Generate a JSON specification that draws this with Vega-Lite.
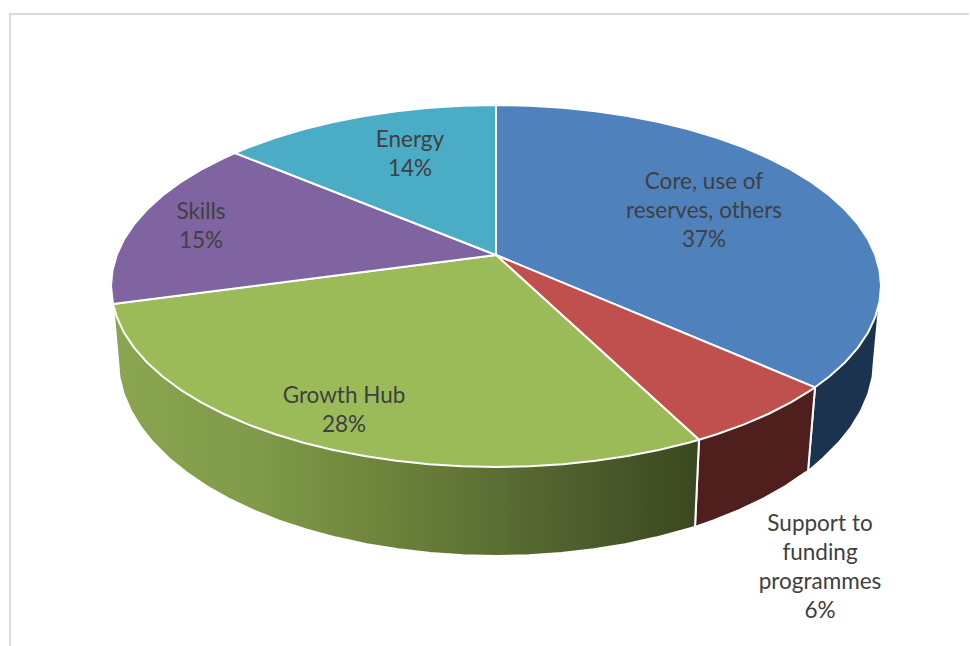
{
"$schema":"https://vega.github.io/schema/vega-lite/v6.json",
"width":970,"height":646,"padding":0,
"autosize":{"type":"fit","contains":"padding"},
"background":"white",
"config":{"view":{"stroke":null}},
"datasets":{
"frame":[{"s":1,"x":10,"y":670},{"s":2,"x":10,"y":14},{"s":3,"x":969,"y":14}],
"walls":[
{"slice":"Core, use of reserves, others","s":1,"x":881,"y":286},{"slice":"Core, use of reserves, others","s":2,"x":874,"y":360},{"slice":"Core, use of reserves, others","s":3,"x":872.6,"y":377.1},{"slice":"Core, use of reserves, others","s":4,"x":868.3,"y":394},{"slice":"Core, use of reserves, others","s":5,"x":861.1,"y":410.7},{"slice":"Core, use of reserves, others","s":6,"x":851.2,"y":427},{"slice":"Core, use of reserves, others","s":7,"x":838.6,"y":442.8},{"slice":"Core, use of reserves, others","s":8,"x":823.4,"y":458},{"slice":"Core, use of reserves, others","s":9,"x":808,"y":471.5},{"slice":"Core, use of reserves, others","s":10,"x":815,"y":387.3},{"slice":"Core, use of reserves, others","s":11,"x":881,"y":286},
{"slice":"Support to funding programmes","s":1,"x":815,"y":387.3},{"slice":"Support to funding programmes","s":2,"x":808,"y":471.5},{"slice":"Support to funding programmes","s":3,"x":805.7,"y":472.4},{"slice":"Support to funding programmes","s":4,"x":785.5,"y":486},{"slice":"Support to funding programmes","s":5,"x":763.3,"y":498.6},{"slice":"Support to funding programmes","s":6,"x":739,"y":510.1},{"slice":"Support to funding programmes","s":7,"x":712.8,"y":520.6},{"slice":"Support to funding programmes","s":8,"x":695,"y":527},{"slice":"Support to funding programmes","s":9,"x":699,"y":439.8},{"slice":"Support to funding programmes","s":10,"x":815,"y":387.3}
],
"greenWall":[
{"s":1,"x":699,"y":439.8},{"s":2,"x":695,"y":527},{"s":3,"x":685,"y":529.7},{"s":4,"x":655.7,"y":537.6},{"s":5,"x":625.3,"y":544.2},{"s":6,"x":593.8,"y":549.3},{"s":7,"x":561.6,"y":553},{"s":8,"x":529,"y":555.3},{"s":9,"x":496,"y":556},{"s":10,"x":463,"y":555.3},{"s":11,"x":430.4,"y":553},{"s":12,"x":398.2,"y":549.3},{"s":13,"x":366.7,"y":544.2},{"s":14,"x":336.3,"y":537.6},{"s":15,"x":307,"y":529.7},{"s":16,"x":279.2,"y":520.6},{"s":17,"x":253,"y":510.1},{"s":18,"x":228.7,"y":498.6},{"s":19,"x":206.5,"y":486},{"s":20,"x":186.3,"y":472.4},{"s":21,"x":168.6,"y":458},{"s":22,"x":153.4,"y":442.8},{"s":23,"x":140.8,"y":427},{"s":24,"x":130.9,"y":410.7},{"s":25,"x":123.7,"y":394},{"s":26,"x":119.4,"y":377.1},{"s":27,"x":118,"y":360},{"s":28,"x":113,"y":304},{"s":29,"x":699,"y":439.8}
],
"faces":[
{"slice":"Core","s":1,"x":496,"y":255},{"slice":"Core","s":2,"x":496,"y":105},{"slice":"Core","s":3,"x":529.6,"y":105.7},{"slice":"Core","s":4,"x":562.8,"y":107.8},{"slice":"Core","s":5,"x":595.6,"y":111.2},{"slice":"Core","s":6,"x":627.7,"y":115.9},{"slice":"Core","s":7,"x":658.7,"y":122},{"slice":"Core","s":8,"x":688.5,"y":129.3},{"slice":"Core","s":9,"x":716.8,"y":137.7},{"slice":"Core","s":10,"x":743.5,"y":147.4},{"slice":"Core","s":11,"x":768.2,"y":158},{"slice":"Core","s":12,"x":790.9,"y":169.7},{"slice":"Core","s":13,"x":811.4,"y":182.2},{"slice":"Core","s":14,"x":829.4,"y":195.5},{"slice":"Core","s":15,"x":844.9,"y":209.5},{"slice":"Core","s":16,"x":857.8,"y":224.1},{"slice":"Core","s":17,"x":867.9,"y":239.2},{"slice":"Core","s":18,"x":875.1,"y":254.6},{"slice":"Core","s":19,"x":879.5,"y":270.2},{"slice":"Core","s":20,"x":881,"y":286},{"slice":"Core","s":21,"x":879.5,"y":301.8},{"slice":"Core","s":22,"x":875.1,"y":317.4},{"slice":"Core","s":23,"x":867.9,"y":332.8},{"slice":"Core","s":24,"x":857.8,"y":347.9},{"slice":"Core","s":25,"x":844.9,"y":362.5},{"slice":"Core","s":26,"x":829.4,"y":376.5},{"slice":"Core","s":27,"x":815,"y":387.3},{"slice":"Core","s":28,"x":496,"y":255},
{"slice":"Support","s":1,"x":496,"y":255},{"slice":"Support","s":2,"x":815,"y":387.3},{"slice":"Support","s":3,"x":811.4,"y":389.8},{"slice":"Support","s":4,"x":790.9,"y":402.3},{"slice":"Support","s":5,"x":768.2,"y":414},{"slice":"Support","s":6,"x":743.5,"y":424.6},{"slice":"Support","s":7,"x":716.8,"y":434.3},{"slice":"Support","s":8,"x":699,"y":439.8},{"slice":"Support","s":9,"x":496,"y":255},
{"slice":"Growth Hub","s":1,"x":496,"y":255},{"slice":"Growth Hub","s":2,"x":699,"y":439.8},{"slice":"Growth Hub","s":3,"x":688.5,"y":442.7},{"slice":"Growth Hub","s":4,"x":658.7,"y":450},{"slice":"Growth Hub","s":5,"x":627.7,"y":456.1},{"slice":"Growth Hub","s":6,"x":595.6,"y":460.8},{"slice":"Growth Hub","s":7,"x":562.8,"y":464.2},{"slice":"Growth Hub","s":8,"x":529.6,"y":466.3},{"slice":"Growth Hub","s":9,"x":496,"y":467},{"slice":"Growth Hub","s":10,"x":462.4,"y":466.3},{"slice":"Growth Hub","s":11,"x":429.2,"y":464.2},{"slice":"Growth Hub","s":12,"x":396.4,"y":460.8},{"slice":"Growth Hub","s":13,"x":364.3,"y":456.1},{"slice":"Growth Hub","s":14,"x":333.3,"y":450},{"slice":"Growth Hub","s":15,"x":303.5,"y":442.7},{"slice":"Growth Hub","s":16,"x":275.2,"y":434.3},{"slice":"Growth Hub","s":17,"x":248.5,"y":424.6},{"slice":"Growth Hub","s":18,"x":223.8,"y":414},{"slice":"Growth Hub","s":19,"x":201.1,"y":402.3},{"slice":"Growth Hub","s":20,"x":180.6,"y":389.8},{"slice":"Growth Hub","s":21,"x":162.6,"y":376.5},{"slice":"Growth Hub","s":22,"x":147.1,"y":362.5},{"slice":"Growth Hub","s":23,"x":134.2,"y":347.9},{"slice":"Growth Hub","s":24,"x":124.1,"y":332.8},{"slice":"Growth Hub","s":25,"x":116.9,"y":317.4},{"slice":"Growth Hub","s":26,"x":113,"y":304},{"slice":"Growth Hub","s":27,"x":496,"y":255},
{"slice":"Skills","s":1,"x":496,"y":255},{"slice":"Skills","s":2,"x":113,"y":304},{"slice":"Skills","s":3,"x":111,"y":286},{"slice":"Skills","s":4,"x":112.5,"y":270.2},{"slice":"Skills","s":5,"x":116.9,"y":254.6},{"slice":"Skills","s":6,"x":124.1,"y":239.2},{"slice":"Skills","s":7,"x":134.2,"y":224.1},{"slice":"Skills","s":8,"x":147.1,"y":209.5},{"slice":"Skills","s":9,"x":162.6,"y":195.5},{"slice":"Skills","s":10,"x":180.6,"y":182.2},{"slice":"Skills","s":11,"x":201.1,"y":169.7},{"slice":"Skills","s":12,"x":223.8,"y":158},{"slice":"Skills","s":13,"x":235,"y":153},{"slice":"Skills","s":14,"x":496,"y":255},
{"slice":"Energy","s":1,"x":496,"y":255},{"slice":"Energy","s":2,"x":235,"y":153},{"slice":"Energy","s":3,"x":248.5,"y":147.4},{"slice":"Energy","s":4,"x":275.2,"y":137.7},{"slice":"Energy","s":5,"x":303.5,"y":129.3},{"slice":"Energy","s":6,"x":333.3,"y":122},{"slice":"Energy","s":7,"x":364.3,"y":115.9},{"slice":"Energy","s":8,"x":396.4,"y":111.2},{"slice":"Energy","s":9,"x":429.2,"y":107.8},{"slice":"Energy","s":10,"x":462.4,"y":105.7},{"slice":"Energy","s":11,"x":496,"y":105},{"slice":"Energy","s":12,"x":496,"y":255}
],
"labels":[
{"label":"Core, use of|reserves, others|37%","x":704,"y":182},
{"label":"Growth Hub|28%","x":344,"y":396},
{"label":"Energy|14%","x":410,"y":140},
{"label":"Skills|15%","x":201,"y":212},
{"label":"Support to|funding|programmes|6%","x":820,"y":524}
]
},
"encoding":{
"x":{"field":"x","type":"quantitative","axis":null,"scale":{"domain":[0,970],"nice":false,"zero":false}},
"y":{"field":"y","type":"quantitative","axis":null,"scale":{"domain":[646,0],"nice":false,"zero":false}}
},
"resolve":{"scale":{"fill":"independent"}},
"layer":[
{"data":{"name":"frame"},"mark":{"type":"line","stroke":"#d9d9d9","strokeWidth":2,"clip":true},"encoding":{"order":{"field":"s"}}},
{"data":{"name":"walls"},"mark":{"type":"line","stroke":"white","strokeWidth":2,"strokeJoin":"round"},"encoding":{"order":{"field":"s"},"detail":{"field":"slice"},"fill":{"field":"slice","type":"nominal","legend":null,"scale":{"domain":["Core, use of reserves, others","Support to funding programmes"],"range":["#1c334f","#4f1f1d"]}}}},
{"data":{"name":"greenWall"},"mark":{"type":"line","stroke":"white","strokeWidth":2,"strokeJoin":"round","fill":{"gradient":"linear","x1":0,"y1":0,"x2":1,"y2":0,"stops":[{"offset":0,"color":"#8aa650"},{"offset":0.25,"color":"#7f9a49"},{"offset":0.5,"color":"#6a8039"},{"offset":0.75,"color":"#526330"},{"offset":1,"color":"#3a481f"}]}},"encoding":{"order":{"field":"s"}}},
{"data":{"name":"faces"},"mark":{"type":"line","stroke":"white","strokeWidth":2,"strokeJoin":"round"},"encoding":{"order":{"field":"s"},"detail":{"field":"slice"},"fill":{"field":"slice","type":"nominal","legend":null,"scale":{"domain":["Core","Support","Growth Hub","Skills","Energy"],"range":["#4f81bd","#c0504d","#9bbb59","#8064a2","#4bacc6"]}}}},
{"data":{"name":"labels"},"mark":{"type":"text","font":"Lato","fontSize":22.5,"color":"#404040","align":"center","baseline":"middle","lineBreak":"|","lineHeight":29},"encoding":{"text":{"field":"label"}}}
]
}
